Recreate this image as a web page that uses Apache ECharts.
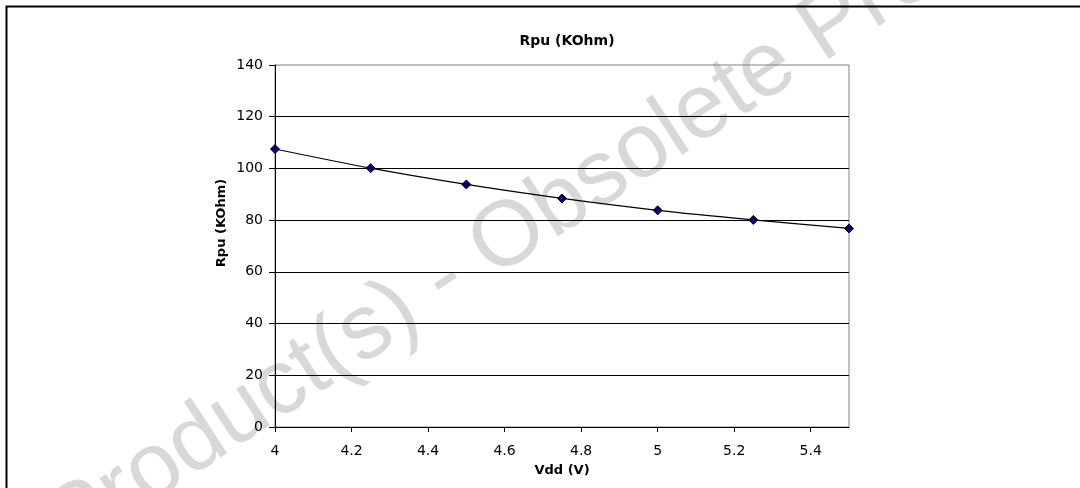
<!DOCTYPE html>
<html>
<head>
<meta charset="utf-8">
<script src="https://cdn.jsdelivr.net/npm/echarts@6/dist/echarts.min.js"></script>
<style>
  html, body { margin: 0; padding: 0; background: #fff; }
  #chart { width: 1080px; height: 488px; }
</style>
</head>
<body>
<div id="chart"></div>
<script>
// Vdd (V) / Rpu (KOhm)
var vdd = [4, 4.25, 4.5, 4.75, 5, 5.25, 5.5];
var rpu = [107.5, 100.1, 93.8, 88.4, 83.8, 80.1, 76.8];

var chartTitle = 'Rpu (KOhm)';
var xName = 'Vdd (V)';
var yName = 'Rpu (KOhm)';
var watermark = 'Obsolete Product(s) - Obsolete Product(s)';

// 坐标轴文字偏宽，用 DejaVu Sans
var font = "'DejaVu Sans', sans-serif";
var markFont = "'Liberation Sans', Arial, sans-serif";

var points = [];
for (var i = 0; i < vdd.length; i++) {
    points.push([vdd[i], rpu[i]]);
}

var myChart = echarts.init(document.getElementById('chart'), null, { renderer: 'canvas' });

var option = {
    backgroundColor: '#fff',
    animation: false,
    textStyle: { fontFamily: font },
    title: {
        text: chartTitle,
        left: 562,
        top: 29,
        textAlign: 'center',
        textStyle: { fontSize: 14, fontWeight: 'bold', color: '#000', fontFamily: font }
    },
    graphic: [
        {
            // 水印
            type: 'text',
            z: -10,
            x: 445,
            y: 280,
            rotation: 0.58,
            style: {
                text: watermark,
                fill: '#d8d8d8',
                font: '92px ' + markFont,
                textAlign: 'center',
                textVerticalAlign: 'middle'
            }
        },
        {
            // 外框
            type: 'rect',
            z: 10,
            shape: { x: 6.5, y: 6.5, width: 1200, height: 600 },
            style: { fill: 'none', stroke: '#000', lineWidth: 2 }
        },
        {
            type: 'text',
            x: 222,
            y: 223,
            rotation: Math.PI / 2,
            style: {
                text: yName,
                fill: '#000',
                font: 'bold 13px ' + font,
                textAlign: 'center',
                textVerticalAlign: 'middle'
            }
        }
    ],
    grid: {
        left: 275,
        right: 231,
        top: 65,
        bottom: 61,
        show: true,
        borderColor: '#808080',
        borderWidth: 1,
        backgroundColor: 'transparent'
    },
    xAxis: {
        type: 'value',
        min: 4,
        max: 5.5,
        interval: 0.2,
        name: xName,
        nameLocation: 'middle',
        nameGap: 37,
        nameTextStyle: { fontSize: 13, fontWeight: 'bold', color: '#000', fontFamily: font },
        axisLine: { lineStyle: { color: '#000', width: 1 } },
        axisTick: { show: true, length: 5, lineStyle: { color: '#000' } },
        axisLabel: {
            showMaxLabel: false,
            margin: 17,
            fontSize: 14,
            color: '#000',
            fontFamily: font
        },
        splitLine: { show: false }
    },
    yAxis: {
        type: 'value',
        min: 0,
        max: 140,
        interval: 20,
        axisLine: { show: true, lineStyle: { color: '#000', width: 1 } },
        axisTick: { show: true, length: 6, lineStyle: { color: '#000' } },
        axisLabel: { margin: 12, fontSize: 14, color: '#000', fontFamily: font },
        splitLine: {
            show: true,
            showMinLine: false,
            showMaxLine: false,
            lineStyle: { color: '#000', width: 1 }
        }
    },
    series: [{
        type: 'line',
        data: points,
        smooth: 0.3,
        symbol: 'diamond',
        symbolSize: 9,
        clip: false,
        lineStyle: { color: '#000', width: 1.2 },
        itemStyle: { color: '#000080', borderColor: '#000', borderWidth: 1 }
    }]
};

myChart.setOption(option);
</script>
</body>
</html>
